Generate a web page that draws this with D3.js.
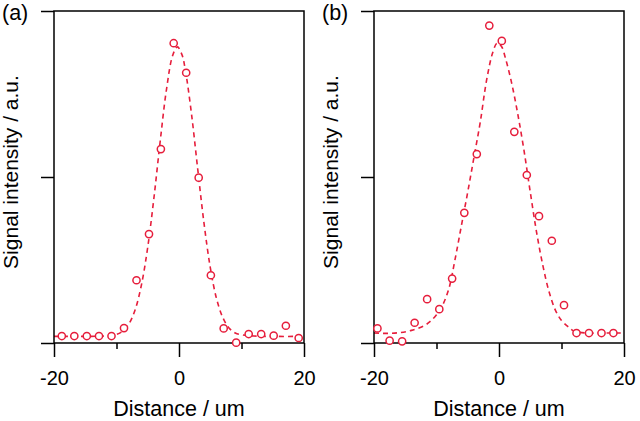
<!DOCTYPE html>
<html>
<head>
<meta charset="utf-8">
<script src="https://cdn.jsdelivr.net/npm/d3@7/dist/d3.min.js"></script>
<style>
  html, body { margin: 0; padding: 0; background: #fff; }
  svg { display: block; }
  text { font-family: "Liberation Sans", Arial, sans-serif; fill: #000; }
</style>
</head>
<body>
<svg id="chart" width="640" height="421"></svg>
<script>
// ---------- data ----------
const panelLabels = ["(a)", "(b)"];
const xMajorTicks = [-20, 0, 20];
const xMinorTicks = [-10, 10];
const yTicks = [0, 0.5, 1];
const xTitle = "Distance / um";
const yTitle = "Signal intensity / a.u.";

// panel (a) measured points
const aX = [-18.75, -16.75, -14.75, -12.8, -10.8, -8.8, -6.8, -4.8, -2.9, -0.85,
            1.15, 3.15, 5.1, 7.15, 9.15, 11.15, 13.15, 15.15, 17.1, 19.15];
const aY = [0.021, 0.021, 0.021, 0.021, 0.021, 0.045, 0.189, 0.328, 0.584, 0.903,
            0.814, 0.498, 0.204, 0.044, 0.001, 0.027, 0.027, 0.022, 0.052, 0.015];
// panel (a) fitted curve
const aFitX = [-20, -14, -12, -10, -9, -8, -7, -6, -5, -4, -3, -2, -1, -0.25, 0.5,
               1, 2, 3, 4, 5, 6, 7, 8, 9, 10, 12, 20];
const aFitY = [0.020, 0.020, 0.021, 0.026, 0.036, 0.058, 0.101, 0.176, 0.289, 0.439,
               0.609, 0.764, 0.867, 0.892, 0.867, 0.824, 0.690, 0.523, 0.361, 0.228,
               0.134, 0.077, 0.045, 0.030, 0.025, 0.021, 0.020];

// panel (b) measured points
const bX = [-19.45, -17.5, -15.5, -13.5, -11.5, -9.55, -7.5, -5.55, -3.55, -1.55,
            0.45, 2.45, 4.45, 6.4, 8.45, 10.4, 12.4, 14.4, 16.4, 18.3];
const bY = [0.044, 0.007, 0.005, 0.061, 0.132, 0.102, 0.194, 0.392, 0.569, 0.956,
            0.910, 0.636, 0.506, 0.382, 0.308, 0.114, 0.030, 0.030, 0.030, 0.030];
// panel (b) fitted curve
const bFitX = [-20, -18, -16, -14, -12, -11, -10, -9, -8, -7, -6, -5, -4, -3, -2, -1,
               -0.3, 0.4, 1, 2, 3, 4, 5, 6, 7, 8, 9, 10, 11, 12, 14, 16, 18, 20];
const bFitY = [0.030, 0.029, 0.031, 0.038, 0.052, 0.065, 0.085, 0.115, 0.165, 0.255,
               0.355, 0.455, 0.560, 0.665, 0.790, 0.875, 0.903, 0.893, 0.860, 0.785,
               0.690, 0.580, 0.455, 0.335, 0.235, 0.155, 0.100, 0.068, 0.050, 0.036,
               0.030, 0.030, 0.030, 0.030];

const panels = [
  { label: panelLabels[0], px: aX, py: aY, fx: aFitX, fy: aFitY, left: 54, right: 304 },
  { label: panelLabels[1], px: bX, py: bY, fx: bFitX, fy: bFitY, left: 374, right: 624 }
];

const red = "#e61e3c";
const plotTop = 11, plotBottom = 343;

const svg = d3.select("#chart");

panels.forEach(p => {
  const x = d3.scaleLinear().domain([-20, 20]).range([p.left, p.right]);
  const y = d3.scaleLinear().domain([0, 1]).range([plotBottom, plotTop]);
  const g = svg.append("g");

  // fitted dashed curve
  const fit = p.fx.map((v, i) => [v, p.fy[i]]);
  g.append("path")
    .datum(fit)
    .attr("fill", "none")
    .attr("stroke", red)
    .attr("stroke-width", 1.6)
    .attr("stroke-dasharray", "5,4")
    .attr("d", d3.line().x(d => x(d[0])).y(d => y(d[1])).curve(d3.curveCatmullRom.alpha(0.5)));

  // frame
  g.append("rect")
    .attr("x", p.left).attr("y", plotTop)
    .attr("width", p.right - p.left).attr("height", plotBottom - plotTop)
    .attr("fill", "none").attr("stroke", "#000").attr("stroke-width", 1.5);

  // y axis ticks (no labels)
  const ya = g.append("g").attr("transform", `translate(${p.left},0)`)
    .call(d3.axisLeft(y).tickValues(yTicks).tickSize(13).tickFormat(""));
  ya.select(".domain").remove();
  ya.selectAll("line").attr("stroke", "#000").attr("stroke-width", 1.5);

  // x axis major
  const xa = g.append("g").attr("transform", `translate(0,${plotBottom})`)
    .call(d3.axisBottom(x).tickValues(xMajorTicks).tickSize(14).tickPadding(14)
      .tickFormat(d3.format("d")));
  xa.select(".domain").remove();
  xa.selectAll("line").attr("stroke", "#000").attr("stroke-width", 1.5);
  xa.selectAll("text").attr("font-size", 20).attr("font-family", "Liberation Sans, Arial, sans-serif")
    .attr("fill", "#000").text(d => d < 0 ? "-" + Math.abs(d) : d);

  // x axis minor
  const xm = g.append("g").attr("transform", `translate(0,${plotBottom})`)
    .call(d3.axisBottom(x).tickValues(xMinorTicks).tickSize(6).tickFormat(""));
  xm.select(".domain").remove();
  xm.selectAll("line").attr("stroke", "#000").attr("stroke-width", 1.5);

  // points
  g.selectAll("circle.pt")
    .data(p.px.map((v, i) => [v, p.py[i]]))
    .join("circle")
    .attr("class", "pt")
    .attr("cx", d => x(d[0]))
    .attr("cy", d => y(d[1]))
    .attr("r", 3.6)
    .attr("fill", "#fff")
    .attr("stroke", red)
    .attr("stroke-width", 1.5);

  // titles
  g.append("text")
    .attr("x", (p.left + p.right) / 2).attr("y", 416)
    .attr("text-anchor", "middle").attr("font-size", 21.5)
    .text(xTitle);

  g.append("text")
    .attr("transform", `translate(${p.left - 36},${(plotTop + plotBottom) / 2 - 5}) rotate(-90)`)
    .attr("text-anchor", "middle").attr("font-size", 21)
    .text(yTitle);

  g.append("text")
    .attr("x", p.left - 52).attr("y", 20)
    .attr("font-size", 21.5)
    .text(p.label);
});
</script>
</body>
</html>
